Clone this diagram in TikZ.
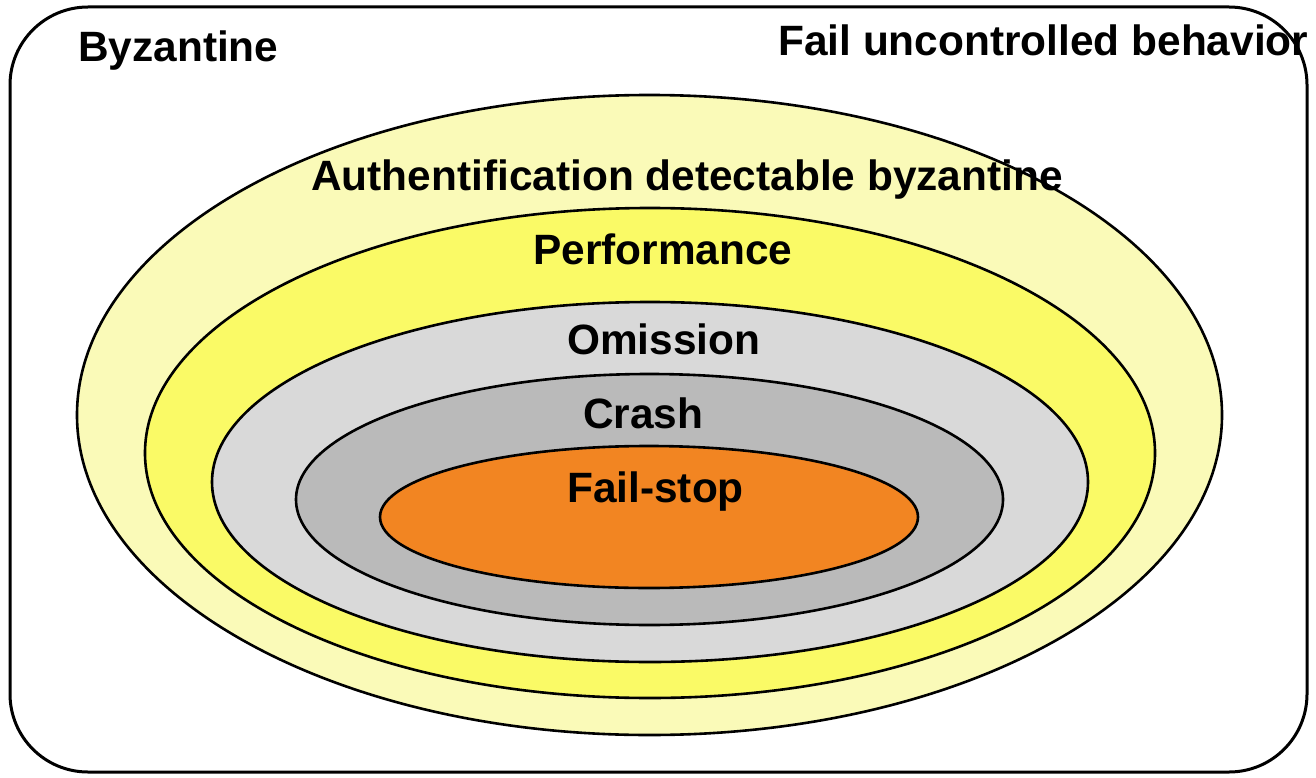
\documentclass[tikz,border=0pt]{standalone}
\usepackage{fontspec}
\setmainfont{Liberation Sans}
\usetikzlibrary{shapes.geometric}
\definecolor{paleyellow}{RGB}{250,250,184}
\definecolor{brightyellow}{RGB}{250,250,102}
\definecolor{lightgrayc}{RGB}{217,217,217}
\definecolor{midgrayc}{RGB}{186,186,186}
\definecolor{orangec}{RGB}{242,133,34}
\tikzset{
  ring/.style={ellipse, draw=black, line width=2.6pt, inner sep=0pt, outer sep=0pt},
  lbl/.style={anchor=base west, inner sep=0pt, font=\fontsize{42.4}{50}\selectfont\bfseries},
}
\begin{document}
\begin{tikzpicture}[x=1pt, y=-1pt]
\useasboundingbox (0,0) rectangle (1316,778);
\fill[white] (0,0) rectangle (1316,778);
\draw[line width=3pt, rounded corners=78pt] (10,7) rectangle (1307,772);
\node[ring, fill=paleyellow, minimum width=1145pt, minimum height=640pt] (auth) at (649.5,415) {};
\node[ring, fill=brightyellow, minimum width=1010pt, minimum height=490pt] (perf) at (650,453) {};
\node[ring, fill=lightgrayc, minimum width=876pt, minimum height=360pt] (omis) at (650,482) {};
\node[ring, fill=midgrayc, minimum width=707pt, minimum height=251pt] (crash) at (649.5,499.5) {};
\node[ring, fill=orangec, minimum width=538pt, minimum height=142pt] (fstop) at (649,517) {};
\node[lbl] (tbyz) at (78,62) {Byzantine};
\node[lbl] (tfail) at (778,56) {Fail uncontrolled behavior};
\node[lbl] (tauth) at (311,190.5) {Authentification detectable byzantine};
\node[lbl] (tperf) at (533,264) {Performance};
\node[lbl] (tomis) at (567,354) {Omission};
\node[lbl] (tcrash) at (583,428) {Crash};
\node[lbl] (tfstop) at (567,502) {Fail-stop};
\end{tikzpicture}
\end{document}
